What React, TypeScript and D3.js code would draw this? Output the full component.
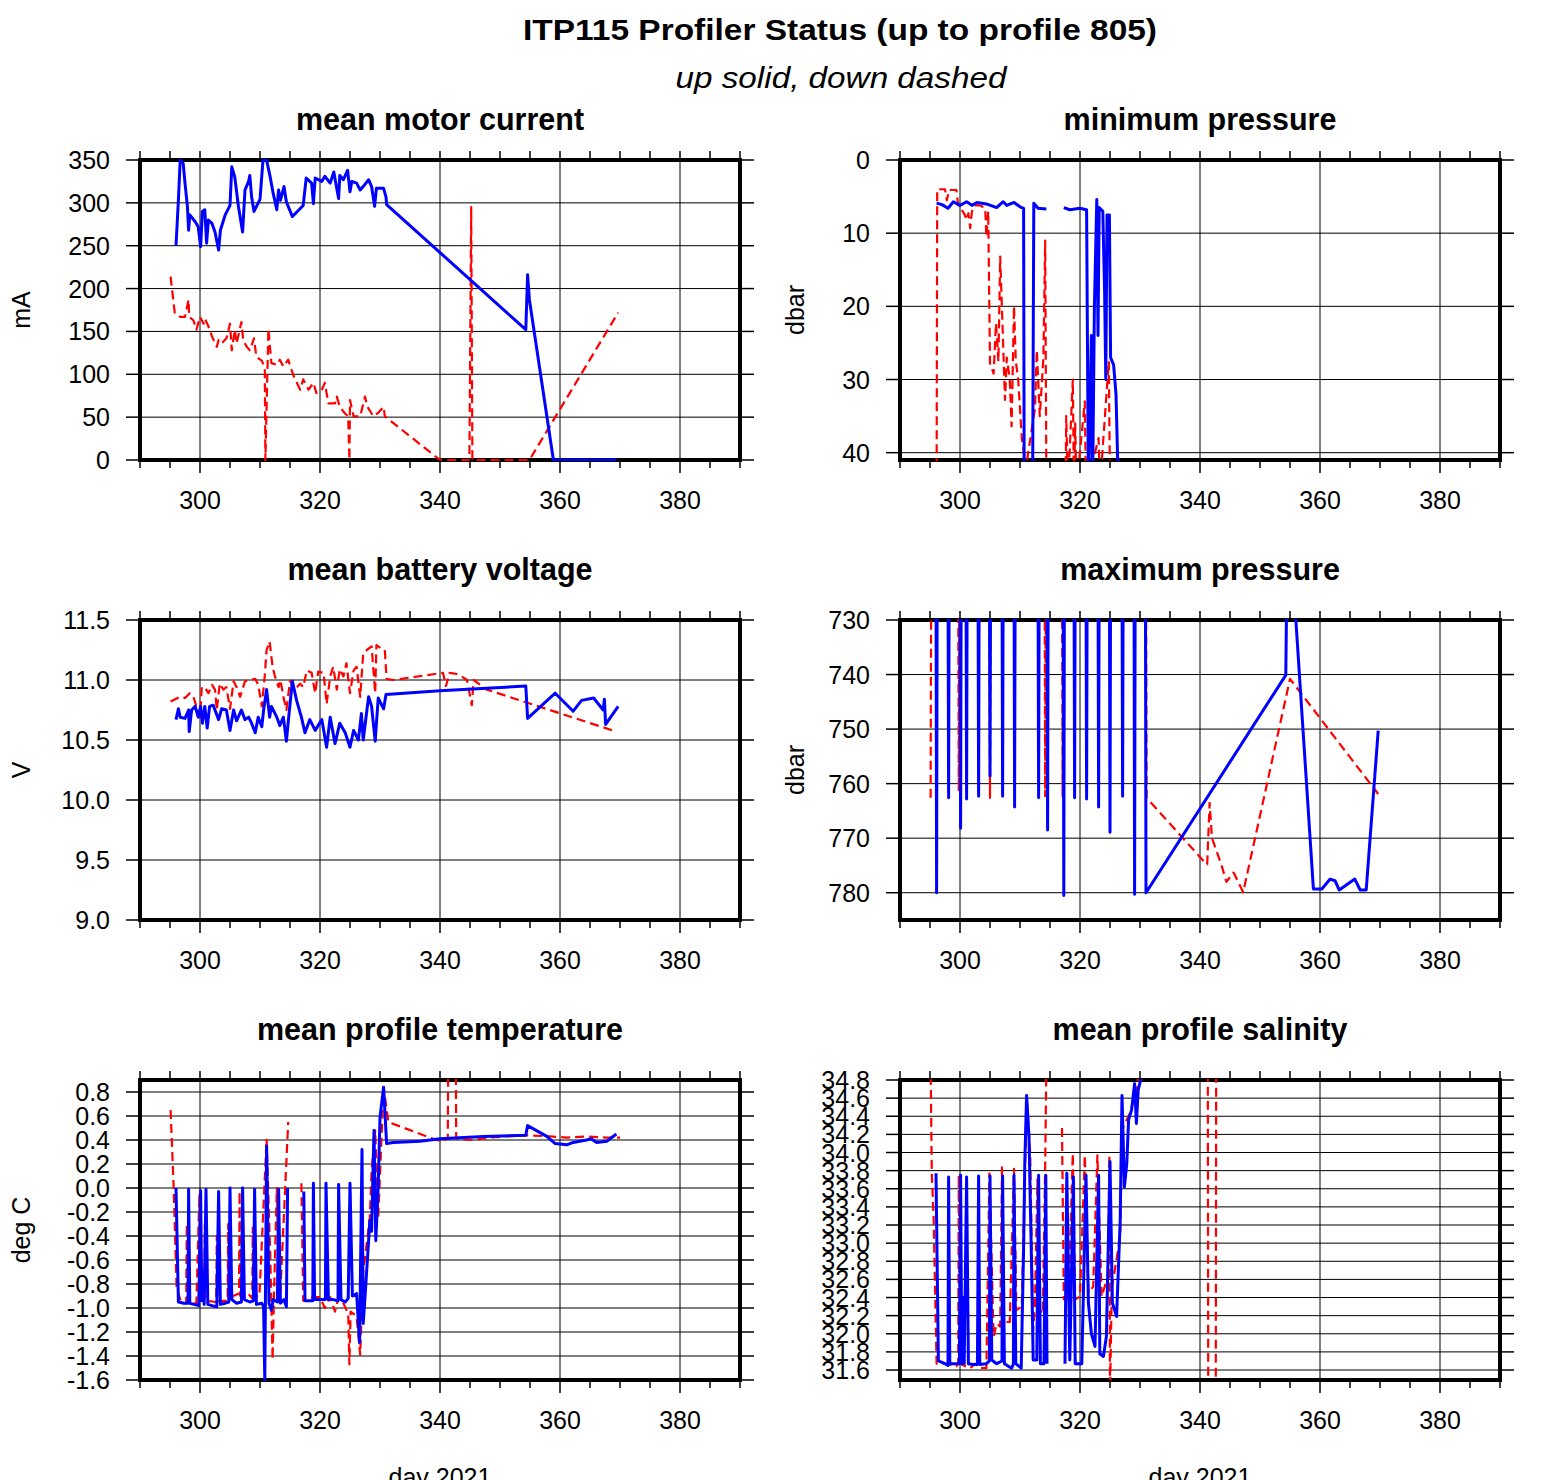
import React from 'react';
import * as d3 from 'd3';

type Pt = [number, number | null];

const TITLE = 'ITP115 Profiler Status (up to profile 805)';
const SUBTITLE = 'up solid, down dashed';
const X_LABEL = 'day 2021';
const X_DOMAIN: [number, number] = [290, 390];
const X_MAJOR = [300, 320, 340, 360, 380];
const X_MINOR = [290, 295, 300, 305, 310, 315, 320, 325, 330, 335, 340, 345, 350, 355, 360, 365, 370, 375, 380, 385, 390];

// mean motor current (mA)
const MC_UP: Pt[] = [[296.0,250],[296.4,303],[296.7,350],[297.2,346],[297.5,323],[297.9,296],[298.1,268],[298.3,286],[299.2,278],[299.7,272],[300.1,249],[300.4,290],[300.8,292],[301.1,253],[301.4,280],[302.0,276],[302.5,266],[303.1,245],[303.4,268],[304.2,286],[305.0,297],[305.3,342],[305.8,330],[306.4,296],[307.1,266],[307.5,315],[308.1,325],[308.3,332],[308.6,307],[309.0,290],[310.0,304],[310.5,350],[311.1,350],[311.7,330],[312.2,311],[312.8,292],[313.1,315],[313.4,303],[314.0,319],[314.4,301],[315.4,284],[317.2,297],[317.7,329],[318.6,323],[318.9,299],[319.2,329],[320.3,325],[320.8,331],[321.7,323],[322.3,336],[323.1,305],[323.3,332],[323.9,327],[324.6,338],[325.0,313],[325.3,325],[326.1,323],[326.7,315],[327.2,319],[328.1,327],[328.6,319],[329.1,296],[329.4,317],[330.6,317],[331.0,307],[331.1,298],[354.3,152],[354.6,216],[354.9,187],[358.9,0],[369.4,0]];
const MC_DN: Pt[] = [[295.1,214],[295.8,171],[296.7,167],[297.5,167],[298.1,187],[298.2,167],[298.9,163],[299.4,152],[300.0,167],[300.6,159],[300.8,165],[301.4,156],[302.0,144],[302.8,132],[303.1,140],[303.6,136],[304.4,142],[305.0,159],[305.3,128],[305.8,152],[306.1,136],[306.9,161],[307.2,140],[307.8,132],[308.3,128],[309.0,142],[309.4,120],[310.3,116],[310.8,107],[310.9,0],[311.4,153],[311.9,113],[312.8,111],[313.3,117],[313.9,109],[314.7,117],[315.6,98],[316.7,82],[317.2,94],[318.1,82],[318.9,90],[319.4,78],[320.3,82],[320.8,90],[321.4,66],[322.5,66],[322.8,74],[323.3,62],[324.2,54],[324.7,51],[324.9,0],[325.0,70],[325.6,51],[326.7,51],[327.5,74],[327.9,62],[328.9,51],[329.7,55],[330.6,62],[330.8,51],[340.0,0],[344.9,0],[345.2,295],[345.4,0],[354.9,0],[369.7,172]];

// minimum pressure (dbar)
const MP_UP: Pt[] = [[296.1,5.9],[297.0,6.1],[298.0,6.6],[298.9,5.7],[300.0,6.2],[301.1,5.7],[302.0,6.2],[302.8,5.8],[304.4,6.0],[306.1,6.5],[307.2,5.7],[307.8,6.2],[309.0,5.8],[310.0,6.4],[310.6,6.6],[310.7,45],[312.1,45],[312.3,5.9],[313.0,6.6],[314.4,6.7],[315.5,null],[317.3,6.5],[318.3,6.8],[320.0,6.6],[321.1,6.8],[321.4,45],[321.9,24],[322.1,45],[322.4,20],[322.8,5.4],[323.0,24],[323.2,6.5],[323.8,7.0],[324.1,18],[324.3,30],[324.5,7.5],[324.9,7.5],[325.1,27],[325.6,28],[326.0,32],[326.4,45]];
const MP_DN: Pt[] = [[295.1,45],[296.1,45],[296.2,4.0],[297.5,4.0],[297.8,5.5],[298.2,4.1],[299.4,4.1],[299.7,6.2],[300.3,6.8],[300.8,7.5],[301.1,8.2],[301.4,7.3],[301.7,9.3],[302.0,7.0],[302.5,6.2],[303.3,6.2],[304.2,6.6],[304.4,10.5],[304.7,7.0],[305.0,27.8],[305.6,29.2],[306.0,22.3],[306.4,27.5],[306.7,13.2],[307.0,20.5],[307.5,32.8],[307.8,27],[308.3,30],[308.6,36.4],[309.0,20],[309.3,27.5],[309.7,30],[310.3,38],[311.0,42],[312.3,35],[312.5,34],[312.8,26],[313.3,35],[313.9,27],[314.2,11],[314.4,45],[317.6,45],[317.7,35],[318.0,45],[318.8,30],[319.0,45],[319.2,36],[319.4,45],[320.8,33],[321.0,45],[323.1,38],[323.3,45],[324.8,27.5],[325.0,45],[330.0,45]];

// mean battery voltage (V)
const BV_UP: Pt[] = [[296.0,10.67],[296.4,10.76],[296.7,10.69],[297.5,10.68],[298.1,10.75],[298.2,10.57],[298.6,10.75],[299.2,10.78],[299.7,10.69],[300.1,10.78],[300.4,10.64],[300.8,10.78],[301.2,10.60],[301.6,10.78],[302.2,10.79],[303.1,10.67],[303.6,10.76],[304.4,10.75],[305.0,10.58],[305.6,10.75],[306.1,10.66],[306.9,10.75],[307.5,10.67],[308.1,10.69],[308.6,10.64],[309.2,10.56],[309.7,10.69],[310.3,10.61],[310.6,10.75],[311.1,10.92],[311.6,10.69],[311.9,10.78],[312.8,10.69],[313.3,10.62],[313.9,10.69],[314.4,10.49],[314.9,10.75],[315.4,10.99],[316.1,10.83],[316.9,10.69],[317.5,10.56],[318.3,10.67],[319.2,10.58],[320.3,10.67],[321.1,10.44],[321.7,10.69],[322.5,10.47],[323.3,10.64],[324.2,10.56],[325.0,10.44],[325.6,10.58],[326.4,10.50],[326.9,10.72],[327.2,10.50],[328.1,10.86],[328.6,10.78],[329.2,10.49],[329.7,10.85],[330.6,10.76],[331.0,10.88],[340.0,10.91],[354.3,10.95],[354.6,10.68],[359.2,10.89],[362.2,10.74],[363.6,10.83],[365.6,10.85],[367.2,10.75],[367.4,10.84],[367.6,10.63],[369.7,10.78]];
const BV_DN: Pt[] = [[295.1,10.82],[296.7,10.86],[297.5,10.85],[298.3,10.89],[298.9,10.86],[299.4,10.78],[300.0,10.69],[300.3,10.94],[300.8,10.94],[301.4,10.89],[302.0,10.96],[302.5,10.92],[302.8,10.75],[303.3,10.97],[303.9,10.92],[304.4,10.94],[305.0,10.76],[305.6,10.99],[306.1,10.94],[306.7,10.86],[307.5,10.99],[308.3,11.0],[309.2,11.01],[309.7,10.96],[310.3,10.78],[310.8,11.04],[311.1,11.25],[311.6,11.32],[312.1,11.11],[312.5,11.03],[313.1,10.94],[313.4,11.0],[313.9,10.86],[314.4,10.75],[315.0,10.99],[315.8,10.92],[316.7,10.97],[317.2,10.94],[317.8,11.08],[318.6,11.06],[319.2,10.89],[319.7,11.07],[320.6,11.06],[321.1,10.80],[321.7,11.03],[322.2,11.11],[322.8,10.92],[323.3,11.09],[323.9,11.03],[324.4,11.14],[325.0,10.89],[325.6,11.08],[326.1,11.11],[326.7,10.86],[327.2,11.22],[327.8,11.25],[328.6,11.28],[329.2,10.89],[329.4,11.29],[330.3,11.26],[330.8,11.25],[331.1,11.01],[332.2,11.0],[340.5,11.06],[341.0,10.95],[341.6,11.06],[342.8,11.05],[343.6,11.03],[344.5,11.0],[345.3,10.79],[345.6,11.0],[346.7,10.96],[347.8,10.92],[369.4,10.57]];

// maximum pressure (dbar); values above 730 lie outside the frame
const XP_UP: Pt[] = [[296.0,720],[296.1,780],[296.2,720],[298.0,720],[298.1,762.6],[298.2,720],[300.0,720],[300.1,768.2],[300.2,720],[301.0,720],[301.1,762.8],[301.2,720],[303.0,720],[303.1,762.3],[303.2,720],[304.9,720],[305.0,758.6],[305.1,720],[307.0,720],[307.1,762.3],[307.2,720],[309.0,720],[309.1,764.3],[309.2,720],[313.0,720],[313.1,762.6],[313.2,720],[314.5,720],[314.6,768.5],[314.7,720],[317.2,720],[317.3,780.5],[317.4,720],[319.0,720],[319.1,762.6],[319.2,720],[321.0,720],[321.1,762.8],[321.2,720],[323.0,720],[323.1,764.3],[323.2,720],[324.9,720],[325.0,768.9],[325.1,720],[327.0,720],[327.1,762.3],[327.2,720],[329.0,720],[329.1,780.3],[329.2,720],[330.9,720],[331.0,780],[354.3,740.1],[354.5,720],[355.5,722],[358.9,779.3],[360.3,779.3],[361.7,777.5],[362.5,777.8],[363.2,779.5],[365.8,777.5],[366.7,779.5],[367.7,779.5],[369.7,750.3]];
const XP_DN: Pt[] = [[295.1,762.6],[295.2,720],[299.7,720],[299.8,761.4],[299.9,720],[304.9,720],[305.0,762.6],[305.1,720],[314.1,720],[314.2,762.3],[314.3,720],[317.0,720],[317.1,762.3],[317.2,720],[331.0,720],[331.1,762.6],[340.6,774.2],[341.2,774.8],[341.6,763.5],[342.0,770],[343.6,775],[344.4,778],[345.6,776.3],[347.2,779.9],[355.0,740.8],[369.7,761.9]];

// mean profile temperature (deg C)
const T_UP: Pt[] = [[296.0,0.0],[296.4,-0.95],[297.3,-0.96],[298.0,-0.96],[298.1,-0.01],[298.3,-0.96],[299.0,-0.97],[299.8,-0.98],[300.1,-0.02],[300.3,-0.94],[300.5,-0.70],[300.7,-0.97],[301.0,-0.01],[301.3,-0.97],[302.0,-0.98],[302.8,-0.99],[303.1,-0.03],[303.4,-0.97],[304.2,-0.96],[304.8,-0.95],[305.0,0.0],[305.3,-0.93],[306.1,-0.96],[306.9,-0.95],[307.1,0.0],[307.4,-0.93],[308.3,-0.95],[308.9,-0.94],[309.1,-0.01],[309.4,-0.97],[310.3,-0.96],[310.6,-0.99],[310.8,-1.6],[311.1,0.35],[311.5,-0.96],[311.9,-1.02],[312.2,-0.93],[312.9,-0.95],[313.1,-0.01],[313.4,-0.96],[314.0,-0.93],[314.4,-0.99],[314.6,0.0],[315.5,null],[317.3,-0.03],[317.5,-0.94],[318.3,-0.94],[318.8,-0.94],[318.9,0.04],[319.1,-0.93],[320.3,-0.93],[320.9,-0.93],[321.0,0.04],[321.4,-0.93],[322.2,-0.93],[323.0,-0.94],[323.1,0.03],[323.5,-0.93],[324.2,-0.95],[324.7,-0.92],[325.0,0.04],[325.4,-0.90],[326.1,-0.88],[326.6,-1.29],[327.0,0.32],[327.2,-1.13],[327.5,-0.91],[328.1,-0.44],[328.3,-0.27],[328.6,-0.36],[329.0,0.48],[329.3,-0.44],[329.7,0.01],[330.0,0.59],[330.6,0.84],[331.1,0.37],[332.2,0.38],[336.7,0.39],[340.0,0.41],[347.2,0.43],[354.3,0.44],[354.6,0.52],[357.8,0.43],[359.2,0.37],[361.1,0.36],[362.2,0.38],[364.4,0.40],[365.2,0.41],[366.1,0.38],[367.8,0.39],[369.4,0.45]];
const T_DN: Pt[] = [[295.1,0.65],[295.6,0.02],[296.1,-0.83],[296.9,-0.96],[297.7,-0.96],[297.8,-0.30],[297.9,-0.96],[299.4,-0.96],[299.9,-0.05],[300.0,-0.94],[300.7,-0.94],[300.8,-0.30],[300.9,-0.94],[302.7,-0.95],[302.8,-0.40],[302.9,-0.94],[304.6,-0.94],[304.7,-0.30],[304.8,-0.94],[305.5,-0.90],[306.5,-0.88],[306.6,-0.03],[306.7,-0.90],[308.0,-0.88],[308.7,-0.92],[308.8,-0.33],[308.9,-0.90],[309.9,-0.90],[311.1,0.41],[311.7,-0.55],[312.1,-1.43],[312.3,-0.96],[312.8,0.0],[313.3,-0.96],[314.2,0.0],[314.7,0.55],[315.5,null],[316.9,0.04],[317.2,-0.94],[318.9,-0.91],[320.0,-0.91],[320.8,-1.0],[321.7,-0.91],[322.5,-1.03],[323.1,-0.91],[323.9,-0.96],[324.7,-1.05],[324.9,-1.47],[325.1,-1.03],[326.1,-1.07],[326.7,-1.39],[327.2,-0.70],[328.3,-0.25],[328.6,0.15],[329.2,0.48],[329.7,-0.25],[330.6,0.84],[331.4,0.55],[338.3,0.42],[340.2,0.39],[341.3,0.41],[341.4,1.5],[342.6,1.5],[342.7,0.41],[345.6,0.40],[348.3,0.42],[351.1,0.43],[354.4,0.44],[358.3,0.43],[361.1,0.42],[364.4,0.43],[367.8,0.42],[370.0,0.42]];

// mean profile salinity
const S_UP: Pt[] = [[296.0,33.77],[296.4,31.70],[297.2,31.68],[298.0,31.65],[298.1,33.73],[298.3,31.67],[299.4,31.67],[299.9,31.67],[300.1,33.75],[300.3,31.67],[300.5,32.4],[300.7,31.67],[301.1,33.73],[301.4,31.67],[302.2,31.66],[302.9,31.66],[303.1,33.74],[303.3,31.66],[304.4,31.67],[304.9,31.70],[305.0,33.74],[305.3,31.71],[306.1,31.67],[307.0,31.70],[307.1,33.74],[307.4,31.67],[308.6,31.62],[308.9,31.67],[309.0,33.75],[309.3,31.67],[310.2,31.62],[310.6,32.93],[310.8,33.88],[311.1,34.63],[311.5,34.17],[311.9,32.85],[312.2,31.71],[312.8,31.71],[313.1,33.75],[313.4,31.67],[314.0,31.67],[314.3,33.75],[314.5,31.67],[315.5,null],[317.5,31.67],[317.8,33.77],[318.3,31.71],[318.9,33.73],[319.2,31.67],[320.3,31.67],[321.0,33.75],[321.4,32.34],[321.9,32.0],[322.5,31.86],[323.1,33.75],[323.3,31.78],[323.9,31.75],[324.4,31.97],[325.0,33.90],[325.4,32.34],[326.1,32.19],[326.7,33.25],[327.0,34.63],[327.4,33.62],[327.8,33.88],[328.1,34.36],[328.6,34.47],[329.1,34.76],[329.4,34.32],[329.7,34.69],[330.3,34.85],[331.0,34.9],[340.0,34.9],[369.5,34.9]];
const S_DN: Pt[] = [[295.1,35.0],[295.3,33.77],[295.6,33.29],[296.1,31.67],[297.8,31.67],[299.4,31.64],[299.7,31.67],[299.8,33.75],[300.0,31.67],[301.7,31.62],[302.5,31.67],[303.3,31.62],[304.4,31.62],[304.9,33.77],[305.6,31.97],[306.1,32.11],[306.7,32.08],[307.0,33.85],[307.3,32.13],[308.3,32.13],[309.0,33.82],[309.4,32.26],[310.3,32.3],[311.1,34.61],[311.7,33.99],[312.2,32.04],[312.5,32.34],[312.9,33.7],[313.3,32.26],[313.8,32.22],[314.2,33.88],[314.4,35.0],[315.5,null],[317.0,34.27],[317.3,32.38],[318.1,32.41],[318.8,33.99],[319.2,32.38],[320.0,32.41],[320.8,33.97],[321.4,32.45],[322.2,32.52],[322.9,33.97],[323.6,32.41],[324.3,32.56],[324.7,32.6],[324.9,33.97],[325.0,31.3],[325.3,32.5],[326.7,33.07],[327.0,34.25],[328.3,34.43],[329.4,34.69],[330.0,35.0],[341.3,35.0],[341.4,30.0],[342.6,30.0],[342.7,35.0],[370.0,35.0]];

const MC_TICKS = [0, 50, 100, 150, 200, 250, 300, 350];
const MP_TICKS = [0, 10, 20, 30, 40];
const BV_TICKS = [9.0, 9.5, 10.0, 10.5, 11.0, 11.5];
const XP_TICKS = [730, 740, 750, 760, 770, 780];
const T_TICKS = [-1.6, -1.4, -1.2, -1.0, -0.8, -0.6, -0.4, -0.2, 0.0, 0.2, 0.4, 0.6, 0.8];
const S_TICKS = [31.6, 31.8, 32.0, 32.2, 32.4, 32.6, 32.8, 33.0, 33.2, 33.4, 33.6, 33.8, 34.0, 34.2, 34.4, 34.6, 34.8];

const FONT = "'Liberation Sans', Arial, Helvetica, sans-serif";
const W = 600;
const H = 300;
const COLS = [140, 900];
const ROWS = [160, 620, 1080];
const TITLE_Y = [130, 580, 1040];

interface PanelDef {
  id: string;
  title: string;
  ylabel: string;
  col: number;
  row: number;
  domain: [number, number];
  inverted: boolean;
  ticks: number[];
  fmt: (v: number) => string;
  up: Pt[];
  dn: Pt[];
}

const PANELS: PanelDef[] = [
  { id: 'mc', title: 'mean motor current', ylabel: 'mA', col: 0, row: 0, domain: [0, 350], inverted: false, ticks: MC_TICKS, fmt: (v) => String(v), up: MC_UP, dn: MC_DN },
  { id: 'mp', title: 'minimum pressure', ylabel: 'dbar', col: 1, row: 0, domain: [0, 41], inverted: true, ticks: MP_TICKS, fmt: (v) => String(v), up: MP_UP, dn: MP_DN },
  { id: 'bv', title: 'mean battery voltage', ylabel: 'V', col: 0, row: 1, domain: [9, 11.5], inverted: false, ticks: BV_TICKS, fmt: (v) => v.toFixed(1), up: BV_UP, dn: BV_DN },
  { id: 'xp', title: 'maximum pressure', ylabel: 'dbar', col: 1, row: 1, domain: [730, 785], inverted: true, ticks: XP_TICKS, fmt: (v) => String(v), up: XP_UP, dn: XP_DN },
  { id: 'tt', title: 'mean profile temperature', ylabel: 'deg C', col: 0, row: 2, domain: [-1.6, 0.9], inverted: false, ticks: T_TICKS, fmt: (v) => v.toFixed(1), up: T_UP, dn: T_DN },
  { id: 'ss', title: 'mean profile salinity', ylabel: '', col: 1, row: 2, domain: [31.49, 34.8], inverted: false, ticks: S_TICKS, fmt: (v) => v.toFixed(1), up: S_UP, dn: S_DN },
];

const YLABEL_X = [21, 795];

function Panel({ p }: { p: PanelDef }) {
  const x0 = COLS[p.col];
  const y0 = ROWS[p.row];
  const xs = d3.scaleLinear().domain(X_DOMAIN).range([x0, x0 + W]);
  const ys = d3.scaleLinear().domain(p.domain).range(p.inverted ? [y0, y0 + H] : [y0 + H, y0]);
  const line = d3
    .line<Pt>()
    .defined((d) => d[1] != null)
    .x((d) => xs(d[0]))
    .y((d) => ys(d[1] as number));
  const clipId = `clip-${p.id}`;
  return (
    <g>
      <defs>
        <clipPath id={clipId}>
          <rect x={x0} y={y0 - 1} width={W} height={H + 2} />
        </clipPath>
      </defs>
      {/* grid */}
      {X_MAJOR.map((v) => (
        <line key={`gx${v}`} x1={xs(v)} x2={xs(v)} y1={y0} y2={y0 + H} stroke="#000" strokeWidth={1} />
      ))}
      {p.ticks.map((v) => (
        <line key={`gy${v}`} x1={x0} x2={x0 + W} y1={ys(v)} y2={ys(v)} stroke="#000" strokeWidth={1} />
      ))}
      {/* frame */}
      <rect x={x0} y={y0} width={W} height={H} fill="none" stroke="#000" strokeWidth={4} />
      {/* data */}
      <g clipPath={`url(#${clipId})`}>
        <path d={line(p.dn) || ''} fill="none" stroke="#ff0000" strokeWidth={2.2} strokeDasharray="9 5" strokeLinejoin="round" />
        <path d={line(p.up) || ''} fill="none" stroke="#0000ff" strokeWidth={3} strokeLinejoin="round" />
      </g>
      {/* x ticks */}
      {X_MINOR.map((v) => (
        <line key={`tt${v}`} x1={xs(v)} x2={xs(v)} y1={y0} y2={y0 - 9} stroke="#000" strokeWidth={1.5} />
      ))}
      {X_MINOR.map((v) => {
        const major = X_MAJOR.includes(v);
        return <line key={`tb${v}`} x1={xs(v)} x2={xs(v)} y1={y0 + H} y2={y0 + H + (major ? 13 : 8)} stroke="#000" strokeWidth={1.5} />;
      })}
      {X_MAJOR.map((v) => (
        <text key={`lx${v}`} x={xs(v)} y={y0 + H + 49} textAnchor="middle" fontSize={25} fontFamily={FONT}>
          {v}
        </text>
      ))}
      {/* y ticks */}
      {p.ticks.map((v) => (
        <g key={`ty${v}`}>
          <line x1={x0 - 14} x2={x0} y1={ys(v)} y2={ys(v)} stroke="#000" strokeWidth={1.5} />
          <line x1={x0 + W} x2={x0 + W + 14} y1={ys(v)} y2={ys(v)} stroke="#000" strokeWidth={1.5} />
          <text x={x0 - 30} y={ys(v)} dy="0.36em" textAnchor="end" fontSize={25} fontFamily={FONT}>
            {p.fmt(v)}
          </text>
        </g>
      ))}
      {/* titles */}
      <text x={x0 + W / 2} y={TITLE_Y[p.row]} textAnchor="middle" fontSize={30.5} fontWeight="bold" fontFamily={FONT}>
        {p.title}
      </text>
      {p.ylabel && (
        <text
          transform={`translate(${YLABEL_X[p.col]},${y0 + H / 2}) rotate(-90)`}
          dy="0.36em"
          textAnchor="middle"
          fontSize={25}
          fontFamily={FONT}
        >
          {p.ylabel}
        </text>
      )}
      {p.row === 2 && (
        <text x={x0 + W / 2} y={1486} textAnchor="middle" fontSize={25} fontFamily={FONT}>
          {X_LABEL}
        </text>
      )}
    </g>
  );
}

export default function App() {
  return (
    <svg
      width={1560}
      height={1480}
      viewBox="0 0 1560 1480"
      style={{ position: 'absolute', left: 0, top: 0, background: '#fff' }}
    >
      <rect x={0} y={0} width={1560} height={1480} fill="#fff" />
      <text x={840} y={40} textAnchor="middle" fontSize={29} fontWeight="bold" fontFamily={FONT} textLength={634} lengthAdjust="spacingAndGlyphs">
        {TITLE}
      </text>
      <text x={841} y={88} textAnchor="middle" fontSize={29} fontStyle="italic" fontFamily={FONT} textLength={331} lengthAdjust="spacingAndGlyphs">
        {SUBTITLE}
      </text>
      {PANELS.map((p) => (
        <Panel key={p.id} p={p} />
      ))}
    </svg>
  );
}
